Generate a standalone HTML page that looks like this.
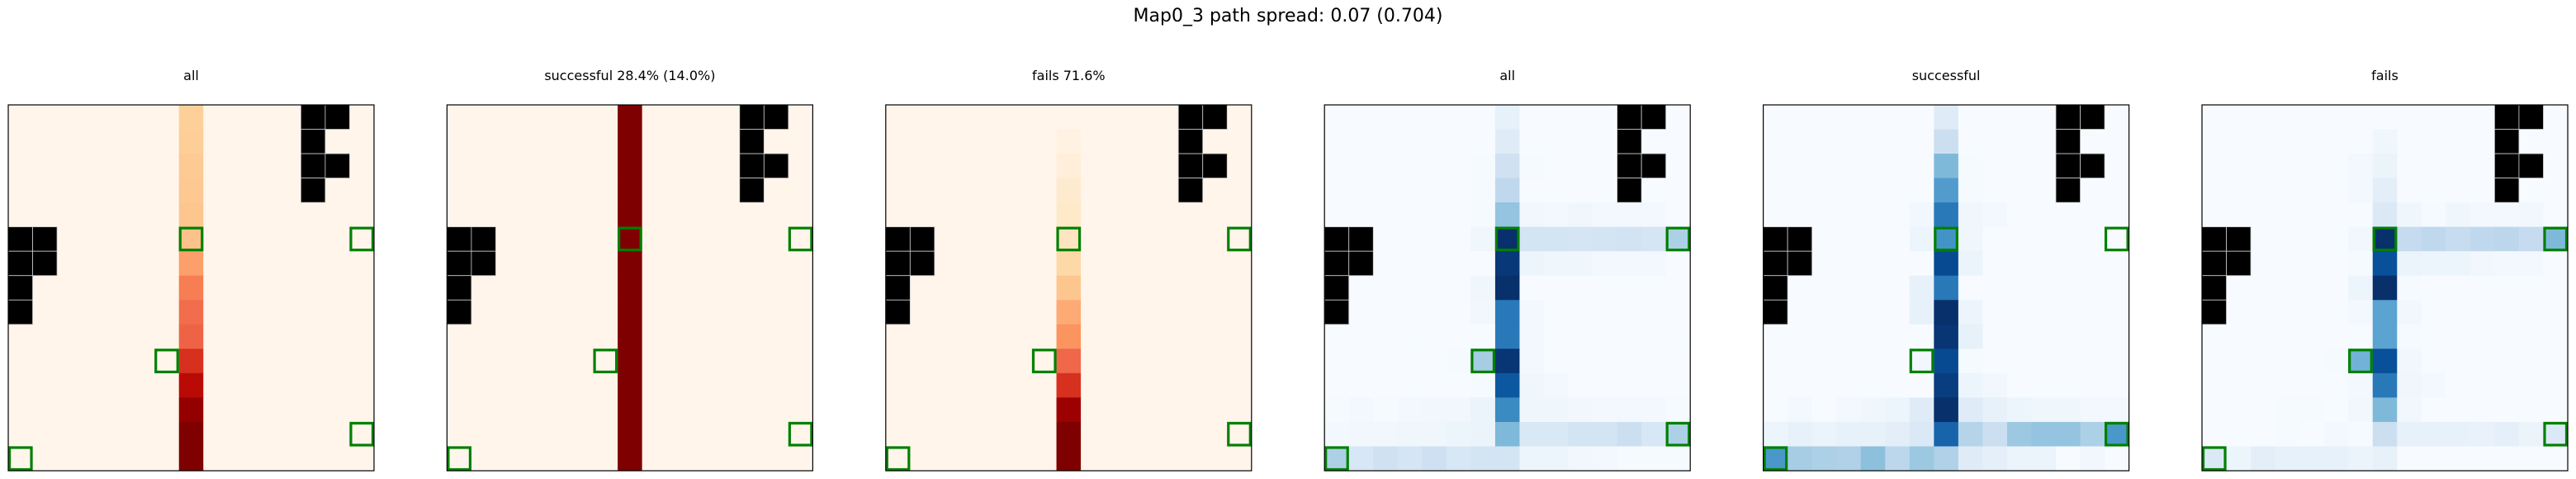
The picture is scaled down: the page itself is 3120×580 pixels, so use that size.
<!DOCTYPE html>
<html><head><meta charset="utf-8"><style>
body{margin:0;background:#fff;}
svg{display:block;font-family:"DejaVu Sans","Liberation Sans",sans-serif;}
</style></head><body>
<svg id="fig" width="3120" height="580" xmlns="http://www.w3.org/2000/svg">
<rect width="3120" height="580" fill="#fff"/>
<text x="1560" y="26" font-size="22" text-anchor="middle">Map0_3 path spread: 0.07 (0.704)</text>
</svg>
<script>
const titles = ["all","successful 28.4% (14.0%)","fails 71.6%","all","successful","fails"];
const cmaps = ["Oranges","Oranges","Oranges","Blues","Blues","Blues"];
const obstacles = [[0,12],[0,13],[1,12],[2,12],[2,13],[3,12],[5,0],[5,1],[6,0],[6,1],[7,0],[8,0]];
const goals = [[5,7],[5,14],[10,6],[13,14],[14,0]];
const orangeAll = [0.27,0.28,0.3,0.31,0.32,0.34,0.45,0.55,0.6,0.63,0.75,0.85,0.95,1,1];
const orangeSucc = [1,1,1,1,1,1,1,1,1,1,1,1,1,1,1];
const orangeFail = [0,0.03,0.06,0.1,0.12,0.15,0.22,0.32,0.42,0.48,0.62,0.75,0.93,1,1];
const blueAll = [
[0,0,0,0,0,0,0,0.08,0,0,0,0,0,0,0],
[0,0,0,0,0,0,0,0.12,0,0,0,0,0,0,0],
[0,0,0,0,0,0,0.01,0.2,0.01,0,0,0,0,0,0],
[0,0,0,0,0,0,0.01,0.27,0,0,0,0,0,0,0],
[0,0,0,0,0,0,0.01,0.4,0.03,0.02,0.04,0.02,0.02,0.02,0],
[0,0,0,0,0,0,0.04,1.0,0.18,0.18,0.17,0.18,0.19,0.17,0.33],
[0,0,0,0,0,0,0,0.97,0.05,0.04,0.04,0.02,0.02,0.02,0],
[0,0,0,0,0,0,0.04,1.0,0,0,0,0,0,0,0],
[0,0,0,0,0,0,0.03,0.72,0.02,0,0,0,0,0,0],
[0,0,0,0,0,0,0,0.72,0.02,0,0,0,0,0,0],
[0,0,0,0,0,0.01,0.35,0.98,0.02,0,0,0,0,0,0],
[0,0,0,0,0,0,0.01,0.85,0.04,0.02,0,0,0,0,0],
[0.01,0.02,0.01,0.02,0.03,0.03,0.06,0.65,0.04,0.04,0.03,0.02,0.02,0.02,0.01],
[0.02,0.03,0.03,0.04,0.04,0.05,0.06,0.45,0.15,0.15,0.18,0.18,0.22,0.16,0.33],
[0.33,0.16,0.2,0.17,0.21,0.16,0.18,0.18,0.05,0.05,0.03,0.02,0.01,0.01,0.01]];
const blueSucc = [
[0,0,0,0,0,0,0,0.12,0,0,0,0,0,0,0],
[0,0,0,0,0,0,0,0.22,0,0,0,0,0,0,0],
[0,0,0,0,0,0,0,0.45,0.01,0,0,0,0,0,0],
[0,0,0,0,0,0,0,0.58,0.01,0,0,0,0,0,0],
[0,0,0,0,0,0,0.03,0.72,0.04,0.02,0,0,0,0,0],
[0,0,0,0,0,0,0.05,0.62,0.04,0,0,0,0,0,0],
[0,0,0,0,0,0,0,0.9,0.06,0,0,0,0,0,0],
[0,0,0,0,0,0,0.08,0.72,0,0,0,0,0,0,0],
[0,0,0,0,0,0,0.08,1.0,0.05,0,0,0,0,0,0],
[0,0,0,0,0,0,0,0.98,0.08,0,0,0,0,0,0],
[0,0,0,0,0,0,0.03,0.9,0.01,0,0,0,0,0,0],
[0,0,0,0,0,0,0,0.95,0.05,0.03,0,0,0,0,0],
[0,0.02,0,0.02,0.04,0.05,0.12,1.0,0.12,0.08,0.05,0.04,0.04,0.02,0.02],
[0.05,0.08,0.06,0.08,0.08,0.1,0.14,0.8,0.3,0.22,0.38,0.4,0.4,0.33,0.6],
[0.6,0.35,0.33,0.32,0.42,0.28,0.38,0.32,0.12,0.09,0.06,0.06,0,0.03,0]];
const blueFail = [
[0,0,0,0,0,0,0,0,0,0,0,0,0,0,0],
[0,0,0,0,0,0,0,0.04,0,0,0,0,0,0,0],
[0,0,0,0,0,0,0.02,0.06,0,0,0,0,0,0,0],
[0,0,0,0,0,0,0.02,0.1,0,0,0,0,0,0,0],
[0,0,0,0,0,0,0,0.14,0.04,0.01,0.04,0.02,0.02,0.03,0],
[0,0,0,0,0,0,0.03,1.0,0.25,0.27,0.24,0.27,0.28,0.25,0.45],
[0,0,0,0,0,0,0.01,0.88,0.06,0.05,0.05,0.03,0.02,0.02,0],
[0,0,0,0,0,0,0.05,1.0,0.01,0,0,0,0,0,0],
[0,0,0,0,0,0,0.02,0.55,0.03,0,0,0,0,0,0],
[0,0,0,0,0,0,0,0.55,0.01,0,0,0,0,0,0],
[0,0,0,0,0,0.01,0.48,0.88,0.03,0,0,0,0,0,0],
[0,0,0,0,0,0,0.02,0.72,0.04,0.02,0,0,0,0,0],
[0,0,0,0.01,0.01,0,0.03,0.45,0.03,0,0,0,0,0,0],
[0,0,0,0.01,0,0.02,0.01,0.22,0.08,0.08,0.08,0.07,0.09,0.06,0.14],
[0.14,0.05,0.1,0.08,0.08,0.08,0.06,0.08,0,0,0,0,0,0,0]];

const REDS_LIKE=["#fff5eb","#fee8c8","#fdd49e","#fdbb84","#fc8d59","#ef6548","#d7301f","#b30000","#7f0000"];
const BLUES=["#f7fbff","#deebf7","#c6dbef","#9ecae1","#6baed6","#4292c6","#2171b5","#08519c","#08306b"];
function hex(h){return [1,3,5].map(i=>parseInt(h.substr(i,2),16));}
function cmap(stops,v){v=Math.max(0,Math.min(1,v));const n=stops.length-1;const f=v*n;const i=Math.min(n-1,Math.floor(f));const t=f-i;const a=hex(stops[i]),b=hex(stops[i+1]);return "rgb("+a.map((x,k)=>Math.round(x+(b[k]-x)*t)).join(",")+")";}

function colMatrix(col){return col.map(v=>{const r=new Array(15).fill(0);r[7]=v;return r;});}
const matrices=[colMatrix(orangeAll),colMatrix(orangeSucc),colMatrix(orangeFail),blueAll,blueSucc,blueFail];

const svg=document.getElementById('fig');
const NS="http://www.w3.org/2000/svg";
const W=443,TOP=127,N=15,C=W/N;
function mk(tag,attrs,parent){const e=document.createElementNS(NS,tag);for(const k in attrs)e.setAttribute(k,attrs[k]);parent.appendChild(e);return e;}
for(let p=0;p<6;p++){
  const x0=10+p*531.4;
  const g=mk('g',{},svg);
  
  
  const t=mk('text',{x:x0+W/2,y:97,'font-size':16,'text-anchor':'middle'},g);
  t.textContent=titles[p];
  
  
  const stops=cmaps[p]==="Blues"?BLUES:REDS_LIKE;
  const m=matrices[p];
  const xs=c=>x0+c*C, ys=r=>TOP+r*C;
  for(let r=0;r<N;r++)for(let c=0;c<N;c++){
    const cell=mk('rect',{x:xs(c),y:ys(r),width:C+0.5,height:C+0.5,fill:cmap(stops,m[r][c])},g);
    
    
  }
  obstacles.forEach(([r,c])=>{
    const o=mk('rect',{x:xs(c),y:ys(r),width:C,height:C,fill:'#000',stroke:'#ccc','stroke-width':0.8},g);
    
    
  });
  goals.forEach(([r,c])=>{
    const q=mk('rect',{x:xs(c)+1.5,y:ys(r)+1.5,width:C-3,height:C-3,fill:'none',stroke:'#008000','stroke-width':3.2},g);
    
    
  });
  const fr=mk('rect',{x:x0,y:TOP,width:W,height:W,fill:'none',stroke:'#000','stroke-width':1.2},g);
  
  
}
</script>
</body></html>
